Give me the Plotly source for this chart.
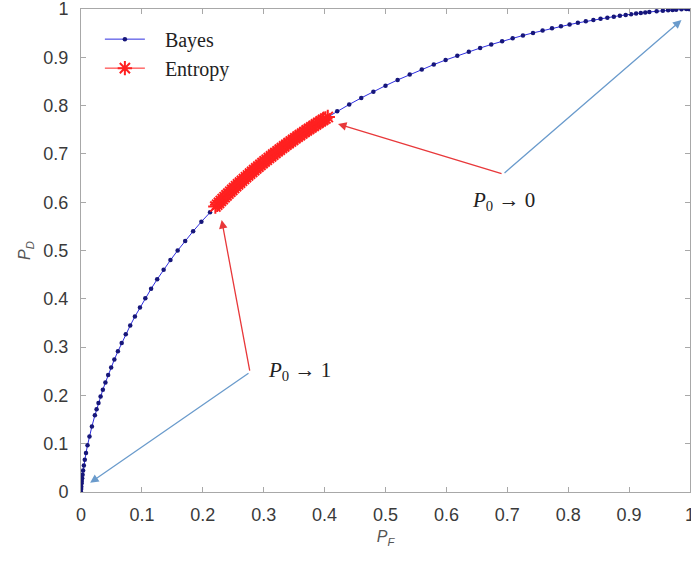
import plotly.graph_objects as go

# Bayes ROC curve (P_F, P_D)
bayes_pf = [0.0, 0.0002, 0.0005, 0.0010, 0.0013, 0.0019, 0.0026, 0.0035, 0.0047, 0.0062, 0.0082,
            0.0107, 0.0139, 0.0179, 0.0228, 0.0256, 0.0287, 0.0322, 0.0359, 0.0401, 0.0446,
            0.0495, 0.0548, 0.0606, 0.0668, 0.0735, 0.0808, 0.0885, 0.0968, 0.1056, 0.1151,
            0.1251, 0.1357, 0.1469, 0.1587, 0.1711, 0.1841, 0.1977, 0.2119, 0.2266, 0.2420,
            0.2578, 0.2743, 0.2912, 0.3085, 0.3264, 0.3446, 0.3632, 0.3821, 0.4013, 0.4207,
            0.4404, 0.4602, 0.4801, 0.5000, 0.5199, 0.5398, 0.5596, 0.5793, 0.5987, 0.6179,
            0.6368, 0.6554, 0.6736, 0.6915, 0.7088, 0.7257, 0.7422, 0.7580, 0.7734, 0.7881,
            0.8023, 0.8159, 0.8289, 0.8413, 0.8531, 0.8643, 0.8749, 0.8849, 0.8944, 0.9032,
            0.9115, 0.9192, 0.9265, 0.9332, 0.9452, 0.9554, 0.9641, 0.9713, 0.9772, 0.9861,
            0.9938, 0.9974, 0.9993, 1.0]
bayes_pd = [0.0, 0.0062, 0.0107, 0.0179, 0.0228, 0.0287, 0.0359, 0.0446, 0.0548, 0.0668, 0.0808,
            0.0968, 0.1151, 0.1357, 0.1587, 0.1711, 0.1841, 0.1977, 0.2119, 0.2266, 0.2420,
            0.2578, 0.2743, 0.2912, 0.3085, 0.3264, 0.3446, 0.3632, 0.3821, 0.4013, 0.4207,
            0.4404, 0.4602, 0.4801, 0.5000, 0.5199, 0.5398, 0.5596, 0.5793, 0.5987, 0.6179,
            0.6368, 0.6554, 0.6736, 0.6915, 0.7088, 0.7257, 0.7422, 0.7580, 0.7734, 0.7881,
            0.8023, 0.8159, 0.8289, 0.8413, 0.8531, 0.8643, 0.8749, 0.8849, 0.8944, 0.9032,
            0.9115, 0.9192, 0.9265, 0.9332, 0.9394, 0.9452, 0.9505, 0.9554, 0.9599, 0.9641,
            0.9678, 0.9713, 0.9744, 0.9772, 0.9798, 0.9821, 0.9842, 0.9861, 0.9878, 0.9893,
            0.9906, 0.9918, 0.9929, 0.9938, 0.9953, 0.9965, 0.9974, 0.9981, 0.9987, 0.9993,
            0.9998, 0.9999, 1.0, 1.0]

# Entropy operating points (dense red band)
entropy_pf = [0.2206, 0.2236, 0.2266, 0.2296, 0.2327, 0.2358, 0.2389, 0.2420, 0.2451, 0.2483,
              0.2514, 0.2546, 0.2578, 0.2611, 0.2643, 0.2676, 0.2709, 0.2743, 0.2776, 0.2810,
              0.2843, 0.2877, 0.2912, 0.2946, 0.2981, 0.3015, 0.3050, 0.3085, 0.3121, 0.3156,
              0.3192, 0.3228, 0.3264, 0.3300, 0.3336, 0.3372, 0.3409, 0.3446, 0.3483, 0.3520,
              0.3557, 0.3594, 0.3632, 0.3669, 0.3707, 0.3745, 0.3783, 0.3821, 0.3859, 0.3897,
              0.3936, 0.3974, 0.4013, 0.4052]
entropy_pd = [0.5910, 0.5948, 0.5987, 0.6026, 0.6064, 0.6103, 0.6141, 0.6179, 0.6217, 0.6255,
              0.6293, 0.6331, 0.6368, 0.6406, 0.6443, 0.6480, 0.6517, 0.6554, 0.6591, 0.6628,
              0.6664, 0.6700, 0.6736, 0.6772, 0.6808, 0.6844, 0.6879, 0.6915, 0.6950, 0.6985,
              0.7019, 0.7054, 0.7088, 0.7123, 0.7157, 0.7190, 0.7224, 0.7257, 0.7291, 0.7324,
              0.7357, 0.7389, 0.7422, 0.7454, 0.7486, 0.7517, 0.7549, 0.7580, 0.7611, 0.7642,
              0.7673, 0.7704, 0.7734, 0.7764]

tick_vals = [0, 0.1, 0.2, 0.3, 0.4, 0.5, 0.6, 0.7, 0.8, 0.9, 1]
tick_text = ["0", "0.1", "0.2", "0.3", "0.4", "0.5", "0.6", "0.7", "0.8", "0.9", "1"]

# annotation anchors and arrows (tail, head, color)
label_p1 = (0.303, 0.25)
label_p0 = (0.693, 0.603)
arrows = [
    ((0.2775, 0.248), (0.015, 0.019), "#6a9bcc"),
    ((0.2775, 0.248), (0.231, 0.563), "#e8383a"),
    ((0.693, 0.658), (0.422, 0.762), "#e8383a"),
    ((0.693, 0.658), (0.986, 0.977), "#6a9bcc"),
]

fig = go.Figure()
fig.add_trace(go.Scatter(
    x=bayes_pf, y=bayes_pd, name="\u00a0\u00a0\u00a0Bayes", mode="lines+markers",
    line=dict(color="#2e2ee0", width=1),
    marker=dict(color="#16167a", size=4.5),
))
fig.add_trace(go.Scatter(
    x=entropy_pf, y=entropy_pd, name="\u00a0\u00a0\u00a0Entropy", mode="lines+markers",
    line=dict(color="#ff2020", width=1),
    marker=dict(symbol="asterisk-open", color="#ff2020", size=12,
                line=dict(color="#ff2020", width=2)),
))

for (tx, ty), (hx, hy), col in arrows:
    fig.add_annotation(x=hx, y=hy, ax=tx, ay=ty, xref="x", yref="y",
                       axref="x", ayref="y", text="", showarrow=True,
                       arrowhead=2, arrowsize=1.3, arrowwidth=1.3, arrowcolor=col)

fig.add_annotation(x=label_p1[0], y=label_p1[1], xref="x", yref="y",
                   text="<i>P</i><sub>0</sub> → 1", showarrow=False, xanchor="left",
                   font=dict(family="Liberation Serif", size=21, color="#222222"))
fig.add_annotation(x=label_p0[0], y=label_p0[1], xref="x", yref="y",
                   text="<i>P</i><sub>0</sub> → 0", showarrow=False, xanchor="center",
                   font=dict(family="Liberation Serif", size=21, color="#222222"))

axis_common = dict(
    range=[0, 1], tickvals=tick_vals, ticktext=tick_text, automargin=False,
    ticklabeloverflow="allow",
    showline=True, linecolor="#a8a8a8", linewidth=1, mirror="allticks",
    ticks="inside", ticklen=5, tickcolor="#a8a8a8", showgrid=False, zeroline=False,
    tickfont=dict(family="Liberation Sans", size=18, color="#3a3a3a"),
)
fig.update_xaxes(**axis_common, ticklabelstandoff=6,
                 title=dict(text="<i>P</i><sub><i>F</i></sub>", standoff=7,
                            font=dict(family="Liberation Sans", size=16, color="#555555")))
fig.update_yaxes(**axis_common, ticklabelstandoff=8,
                 title=dict(text="<i>P</i><sub><i>D</i></sub>", standoff=8,
                            font=dict(family="Liberation Sans", size=16, color="#555555")))

fig.update_layout(
    width=691, height=561,
    margin=dict(l=81, r=1, t=9, b=69),
    paper_bgcolor="white", plot_bgcolor="white",
    showlegend=True,
    legend=dict(x=0.031, y=0.978, xanchor="left", yanchor="top",
                bgcolor="rgba(255,255,255,0)", borderwidth=0,
                font=dict(family="Liberation Serif", size=20, color="#222222"),
                itemwidth=40, tracegroupgap=0),
)

fig.write_html("out.html", config={"displayModeBar": False},
               post_script="document.body.style.margin='0';document.body.style.padding='0';")
